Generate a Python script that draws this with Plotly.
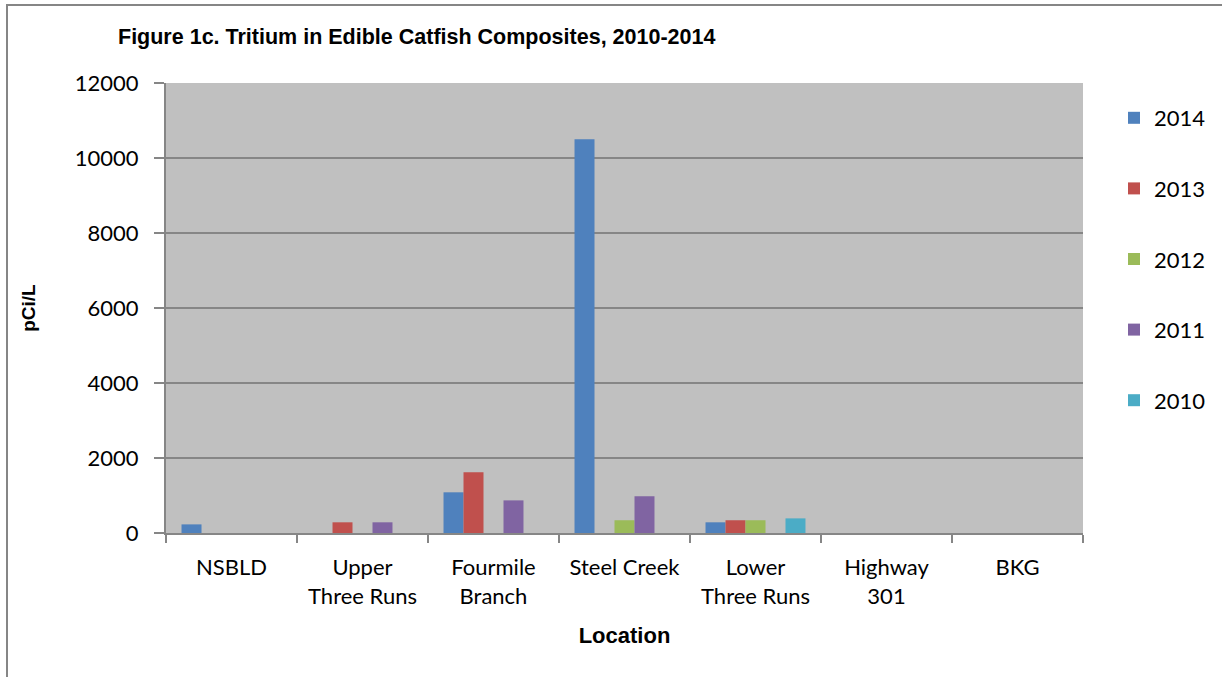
import plotly.graph_objects as go

categories = ["NSBLD", "Upper<br>Three Runs", "Fourmile<br>Branch", "Steel Creek",
              "Lower<br>Three Runs", "Highway<br>301", "BKG"]
years = ["2014", "2013", "2012", "2011", "2010"]
v2014 = [230, None, 1085, 10500, 285, None, None]
v2013 = [None, 285, 1620, None, 340, None, None]
v2012 = [None, None, None, 340, 340, None, None]
v2011 = [None, 285, 870, 980, None, None, None]
v2010 = [None, None, None, None, 390, None, None]
series = [v2014, v2013, v2012, v2011, v2010]
colors = ["#4F81BD", "#C0504D", "#9BBB59", "#8064A2", "#4BACC6"]
yticks = [0, 2000, 4000, 6000, 8000, 10000, 12000]

FONT = "Lato"
fig = go.Figure()
for name, vals, col in zip(years, series, colors):
    fig.add_trace(go.Bar(x=categories, y=vals, name=name, legendgroup=name,
                         marker=dict(color=col, line=dict(width=0))))

W, H = 1222, 677
L, R, T, B = 166, 139, 83, 144
pw, ph = W - L - R, H - T - B

def px_x(x):
    return (x - L) / pw

def px_y(y):
    return (H - B - y) / ph

fig.update_layout(
    width=W, height=H,
    margin=dict(l=L, r=R, t=T, b=B, autoexpand=False),
    paper_bgcolor="white", plot_bgcolor="#C0C0C0",
    barmode="group", bargap=0.237, bargroupgap=0,
    font=dict(family=FONT, size=22, color="black"),
    showlegend=True,
    legend=dict(x=px_x(1114), y=px_y(97), xanchor="left", yanchor="top",
                tracegroupgap=39, font=dict(family=FONT, size=22),
                bgcolor="rgba(0,0,0,0)", itemwidth=30),
    xaxis=dict(categoryorder="array", categoryarray=categories,
               range=[-0.5, 6.5], showline=True, linecolor="#868686", linewidth=2,
               ticks="outside", ticklen=8, tickcolor="#868686", tickwidth=2,
               tickson="boundaries", showgrid=False,
               ticklabelstandoff=14,
               title=dict(text="<b>Location</b>", font=dict(family="Liberation Sans", size=22),
                          standoff=20)),
    yaxis=dict(range=[0, 12000], tickvals=yticks, tickformat="d", showline=True,
               linecolor="#868686",
               linewidth=2, ticks="outside", ticklen=10, tickcolor="#868686", tickwidth=2,
               showgrid=True, gridcolor="#868686", gridwidth=2, zeroline=False,
               ticklabelstandoff=11,
               title=dict(text="<b>pCi/L</b>", font=dict(family="Liberation Sans", size=19),
                          standoff=34)),
)

fig.add_annotation(text="<b>Figure 1c. Tritium in Edible Catfish Composites, 2010-2014</b>",
                   xref="paper", yref="paper", x=px_x(116), y=px_y(37),
                   xanchor="left", yanchor="middle", showarrow=False,
                   font=dict(family="Liberation Sans", size=21.5, color="black"))

# chart frame (only top and left edges fall inside the picture)
fig.add_shape(type="rect", xref="paper", yref="paper", x0=px_x(7), x1=px_x(1240),
              y0=px_y(5), y1=px_y(700), line=dict(color="#868686", width=2),
              fillcolor="rgba(0,0,0,0)", layer="above")

fig.write_html("out.html", config={"displayModeBar": False},
               post_script="document.body.style.margin='0';")
